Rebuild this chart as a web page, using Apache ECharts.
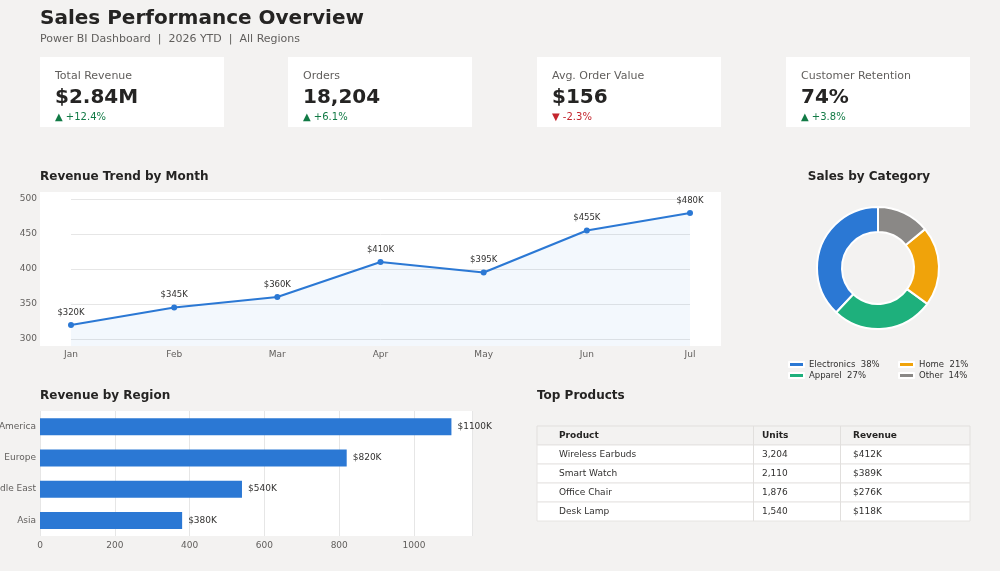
<!DOCTYPE html>
<html>
<head>
<meta charset="utf-8">
<script src="https://cdn.jsdelivr.net/npm/echarts@6/dist/echarts.min.js"></script>
<style>
html,body{margin:0;padding:0;background:#f3f2f1;}
#main{width:1000px;height:571px;}
</style>
</head>
<body>
<div id="main"></div>
<script>
// ---- data ----
const kpiLabels = ['Total Revenue', 'Orders', 'Avg. Order Value', 'Customer Retention'];
const kpiValues = ['$2.84M', '18,204', '$156', '74%'];
const kpiChanges = ['▲ +12.4%', '▲ +6.1%', '▼ -2.3%', '▲ +3.8%'];
const kpiUp = [true, true, false, true];

const months = ['Jan', 'Feb', 'Mar', 'Apr', 'May', 'Jun', 'Jul'];
const monthlyRevenue = [320, 345, 360, 410, 395, 455, 480];
const trendTicks = [300, 350, 400, 450, 500];

const categories = ['Electronics', 'Apparel', 'Home', 'Other'];
const categoryShare = [38, 27, 21, 14];

const regions = ['North America', 'Europe', 'Middle East', 'Asia'];
const regionRevenue = [1100, 820, 540, 380];

const tableHeader = ['Product', 'Units', 'Revenue'];
const products = ['Wireless Earbuds', 'Smart Watch', 'Office Chair', 'Desk Lamp'];
const productUnits = ['3,204', '2,110', '1,876', '1,540'];
const productRevenue = ['$412K', '$389K', '$276K', '$118K'];

// ---- style ----
const FONT = "'DejaVu Sans', sans-serif";
const BLUE = '#2b78d4';
const catColors = ['#2b78d4', '#1eb07c', '#f0a30a', '#8a8886'];
const DARK = '#252423';
const GREY = '#605e5c';

function txt(x, y, text, size, color, weight, align) {
  return {
    type: 'text', x: x, y: y, z: 10,
    style: {
      text: text, fill: color, fontSize: size, fontWeight: weight || 'normal',
      fontFamily: FONT, align: align || 'left', verticalAlign: 'middle',
      textAlign: align || 'left', textVerticalAlign: 'middle'
    }
  };
}
function rect(x, y, w, h, fill, stroke, z) {
  return {
    type: 'rect', z: z === undefined ? 1 : z,
    shape: { x: x, y: y, width: w, height: h },
    style: { fill: fill, stroke: stroke || null, lineWidth: stroke ? 1 : 0 }
  };
}

const elements = [];
elements.push(txt(40, 19, 'Sales Performance Overview', 20, DARK, 'bold'));
elements.push(txt(40, 39, 'Power BI Dashboard  |  2026 YTD  |  All Regions', 11, GREY));

const cardX = [40, 288, 537, 786];
kpiLabels.forEach(function (lab, i) {
  const x = cardX[i];
  elements.push(rect(x, 57, 184, 70, '#ffffff', null, 1));
  elements.push(txt(x + 15, 76, lab, 11, GREY));
  elements.push(txt(x + 15, 98, kpiValues[i], 20, DARK, 'bold'));
  elements.push(txt(x + 15, 117, kpiChanges[i], 10, kpiUp[i] ? '#117a45' : '#c4262e'));
});

// section titles
elements.push(txt(40, 177, 'Revenue Trend by Month', 12, DARK, 'bold'));
elements.push(txt(869, 177, 'Sales by Category', 12, DARK, 'bold', 'center'));
elements.push(txt(40, 396, 'Revenue by Region', 12, DARK, 'bold'));
elements.push(txt(537, 396, 'Top Products', 12, DARK, 'bold'));

// line chart background
elements.push({
  type: 'rect', z: -100, silent: true,
  shape: { x: 40, y: 192, width: 681, height: 154 },
  style: { fill: '#ffffff' }
});

// table
const textX = [559, 762, 853];
const rowTop = 426, rowH = 19;
elements.push(rect(537, rowTop, 433, rowH, '#f3f2f1', '#e1dfdd', 2));
tableHeader.forEach(function (h, c) {
  elements.push(txt(textX[c], rowTop + rowH / 2 + 0.5, h, 9, DARK, 'bold'));
});
products.forEach(function (p, r) {
  const y = rowTop + rowH * (r + 1);
  elements.push(rect(537, y, 433, rowH, '#ffffff', '#e6e4e2', 2));
  const vals = [p, productUnits[r], productRevenue[r]];
  vals.forEach(function (v, c) {
    elements.push(txt(textX[c], y + rowH / 2 + 0.5, v, 9, '#323130'));
  });
});
[753, 840].forEach(function (x) {
  elements.push({
    type: 'line', z: 3,
    shape: { x1: x + 0.5, y1: rowTop, x2: x + 0.5, y2: rowTop + rowH * 5 },
    style: { stroke: '#e1dfdd', lineWidth: 1 }
  });
});

const chart = echarts.init(document.getElementById('main'), null, { renderer: 'canvas' });

const legendFmt = function (n) { return n + '  ' + categoryShare[categories.indexOf(n)] + '%'; };

const option = {
  backgroundColor: '#f3f2f1',
  animation: false,
  textStyle: { fontFamily: FONT },
  graphic: { elements: elements },
  grid: [
    { left: 71, right: 310, top: 192, height: 154, containLabel: false, outerBoundsMode: 'none' },
    { left: 40, right: 528, top: 411, height: 125, show: true, backgroundColor: '#ffffff', borderWidth: 0,
      containLabel: false, outerBoundsMode: 'none' }
  ],
  xAxis: [
    {
      gridIndex: 0, type: 'category', data: months, boundaryGap: false,
      axisLine: { show: false }, axisTick: { show: false },
      axisLabel: { color: GREY, fontSize: 9, margin: 4, fontFamily: FONT },
      splitLine: { show: false }
    },
    {
      gridIndex: 1, type: 'value', min: 0, max: 1155, interval: 200,
      axisLine: { show: false }, axisTick: { show: false },
      axisLabel: { color: GREY, fontSize: 9, margin: 5, showMaxLabel: false, fontFamily: FONT,
        formatter: function (v) { return v % 200 === 0 ? String(v) : ''; } },
      splitLine: { show: true, lineStyle: { color: '#e6e6e6', width: 1 } }
    }
  ],
  yAxis: [
    {
      gridIndex: 0, type: 'value', min: 290, max: 510,
      axisLine: { show: false }, axisTick: { show: false, customValues: trendTicks },
      axisLabel: { color: GREY, fontSize: 9, margin: 34, customValues: trendTicks, fontFamily: FONT },
      splitLine: { show: true, lineStyle: { color: '#e6e6e6', width: 1 } }
    },
    {
      gridIndex: 1, type: 'category', data: regions, inverse: true,
      axisLine: { show: false }, axisTick: { show: false },
      axisLabel: { color: GREY, fontSize: 9, margin: 4, fontFamily: FONT },
      splitLine: { show: false }
    }
  ],
  legend: [
    {
      orient: 'vertical', left: 788, top: 360, padding: 0, itemWidth: 15, itemHeight: 5, itemGap: 2,
      icon: 'rect', data: ['Electronics', 'Apparel'],
      textStyle: { fontSize: 8.5, color: '#323130', fontFamily: FONT },
      formatter: legendFmt
    },
    {
      orient: 'vertical', left: 898, top: 360, padding: 0, itemWidth: 15, itemHeight: 5, itemGap: 2,
      icon: 'rect', data: ['Home', 'Other'],
      textStyle: { fontSize: 8.5, color: '#323130', fontFamily: FONT },
      formatter: legendFmt
    }
  ],
  series: [
    {
      type: 'line', xAxisIndex: 0, yAxisIndex: 0, data: monthlyRevenue,
      symbol: 'circle', symbolSize: 6,
      lineStyle: { color: BLUE, width: 2.2 },
      itemStyle: { color: BLUE },
      areaStyle: { color: 'rgba(43,120,212,0.08)' },
      label: { show: true, position: 'top', distance: 5, fontSize: 8.5, color: '#323130',
        fontFamily: FONT, formatter: function (p) { return '$' + p.value + 'K'; } }
    },
    {
      type: 'bar', xAxisIndex: 1, yAxisIndex: 1, data: regionRevenue,
      barWidth: 17, itemStyle: { color: BLUE },
      label: { show: true, position: 'right', distance: 6, fontSize: 9, color: '#323130',
        fontFamily: FONT, formatter: function (p) { return '$' + p.value + 'K'; } }
    },
    {
      type: 'pie', center: [878, 268], radius: [36, 61],
      startAngle: 90, clockwise: false,
      label: { show: false }, labelLine: { show: false },
      itemStyle: { borderColor: '#ffffff', borderWidth: 2 },
      data: categories.map(function (c, i) {
        return { name: c, value: categoryShare[i], itemStyle: { color: catColors[i] } };
      })
    }
  ]
};
chart.setOption(option);
</script>
</body>
</html>
